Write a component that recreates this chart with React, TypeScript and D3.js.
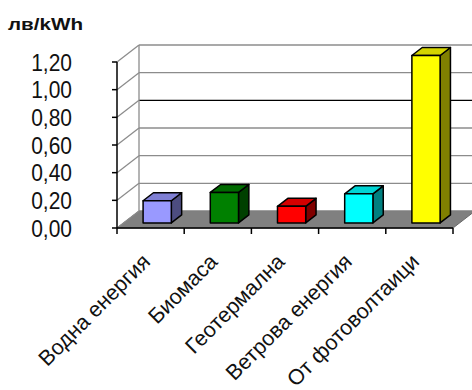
import React from "react";
import * as d3 from "d3";

const categories = ["Водна енергия", "Биомаса", "Геотермална", "Ветрова енергия", "От фотоволтаици"];
const values = [0.16, 0.22, 0.12, 0.21, 1.21];
const frontColors = ["#9999ff", "#008000", "#ff0000", "#00ffff", "#ffff00"];
const topColors = ["#7f7fd4", "#006a00", "#d40000", "#00d4d4", "#d4d400"];
const sideColors = ["#4d4d80", "#004000", "#800000", "#008080", "#808000"];
const yTicks = [0, 0.2, 0.4, 0.6, 0.8, 1.0, 1.2];
const yTitle = "лв/kWh";

const W = 472, H = 390;
const X0 = 117, X1 = 453;
const DX = 22, DY = -17;

export default function App() {
  const x = d3.scaleBand<string>().domain(categories).range([X0, X1]).padding(0);
  const y = d3.scaleLinear().domain([0, 1.2]).range([228, 62]);
  const fmt = (v: number) => v.toFixed(2).replace(".", ",");
  const bw = x.bandwidth();
  const zf = 0.3, zb = 0.77;
  const barW = bw * 0.42;
  const pt = (px: number, py: number, z: number) => `${px + DX * z},${py + DY * z}`;

  return (
    <div style={{ position: "absolute", left: 0, top: 0 }}>
      <svg width={W} height={H} style={{ display: "block", background: "#fff" }} fontFamily="'Liberation Sans', Arial, sans-serif">
        {/* floor */}
        <polygon points={`${pt(X0, y(0), 0)} ${pt(X1, y(0), 0)} ${pt(X1, y(0), 1)} ${pt(X0, y(0), 1)}`} fill="#808080" stroke="#666" strokeWidth={1} />
        {/* back wall grid */}
        {yTicks.map((t) => (
          <line key={"bg" + t} x1={X0 + DX} x2={X1 + DX} y1={y(t) + DY} y2={y(t) + DY}
            stroke={t === 0.8 ? "#000" : "#8c8c8c"} strokeWidth={t === 0 ? 1 : 1.3} />
        ))}
        {/* left wall diagonals */}
        {yTicks.map((t) => (
          <line key={"lw" + t} x1={X0} y1={y(t)} x2={X0 + DX} y2={y(t) + DY} stroke="#8c8c8c" strokeWidth={1.3} />
        ))}
        <line x1={X0 + DX} x2={X0 + DX} y1={y(1.2) + DY} y2={y(0) + DY} stroke="#8c8c8c" strokeWidth={1.3} />
        {/* bars */}
        {categories.map((c, i) => {
          const cx = (x(c) as number) + bw / 2;
          const l = cx - barW / 2, r = cx + barW / 2;
          const top = y(values[i]), bot = y(0);
          return (
            <g key={c} stroke="#000" strokeWidth={1.5} strokeLinejoin="round">
              <polygon points={`${pt(r, bot, zf)} ${pt(r, bot, zb)} ${pt(r, top, zb)} ${pt(r, top, zf)}`} fill={sideColors[i]} />
              <polygon points={`${pt(l, top, zf)} ${pt(r, top, zf)} ${pt(r, top, zb)} ${pt(l, top, zb)}`} fill={topColors[i]} />
              <polygon points={`${pt(l, bot, zf)} ${pt(r, bot, zf)} ${pt(r, top, zf)} ${pt(l, top, zf)}`} fill={frontColors[i]} />
            </g>
          );
        })}
        {/* axes */}
        <line x1={X0} x2={X0} y1={y(1.2)} y2={y(0)} stroke="#000" strokeWidth={1.5} />
        <line x1={X0} x2={X1} y1={y(0)} y2={y(0)} stroke="#000" strokeWidth={1.5} />
        {yTicks.map((t) => (
          <g key={"yt" + t}>
            <line x1={X0 - 5} x2={X0} y1={y(t)} y2={y(t)} stroke="#000" strokeWidth={1.5} />
            <text transform={`translate(72,${y(t) + 8.5}) scale(1,1.12)`} textAnchor="end" fontSize={21} fill="#111">{fmt(t)}</text>
          </g>
        ))}
        {[...categories.map((c) => x(c) as number), X1].map((v, i) => (
          <line key={"xt" + i} x1={v} x2={v} y1={y(0)} y2={y(0) + 6} stroke="#000" strokeWidth={1.5} />
        ))}
        {categories.map((c) => {
          const cx = (x(c) as number) + bw / 2;
          return (
            <text key={"xl" + c} transform={`translate(${cx + 1},${263}) rotate(-45)`} textAnchor="end" fontSize={21.5} fill="#111">{c}</text>
          );
        })}
        <text x={8} y={30} fontSize={17} fontWeight="bold" fill="#111" textLength={75} lengthAdjust="spacingAndGlyphs">{yTitle}</text>
      </svg>
    </div>
  );
}
